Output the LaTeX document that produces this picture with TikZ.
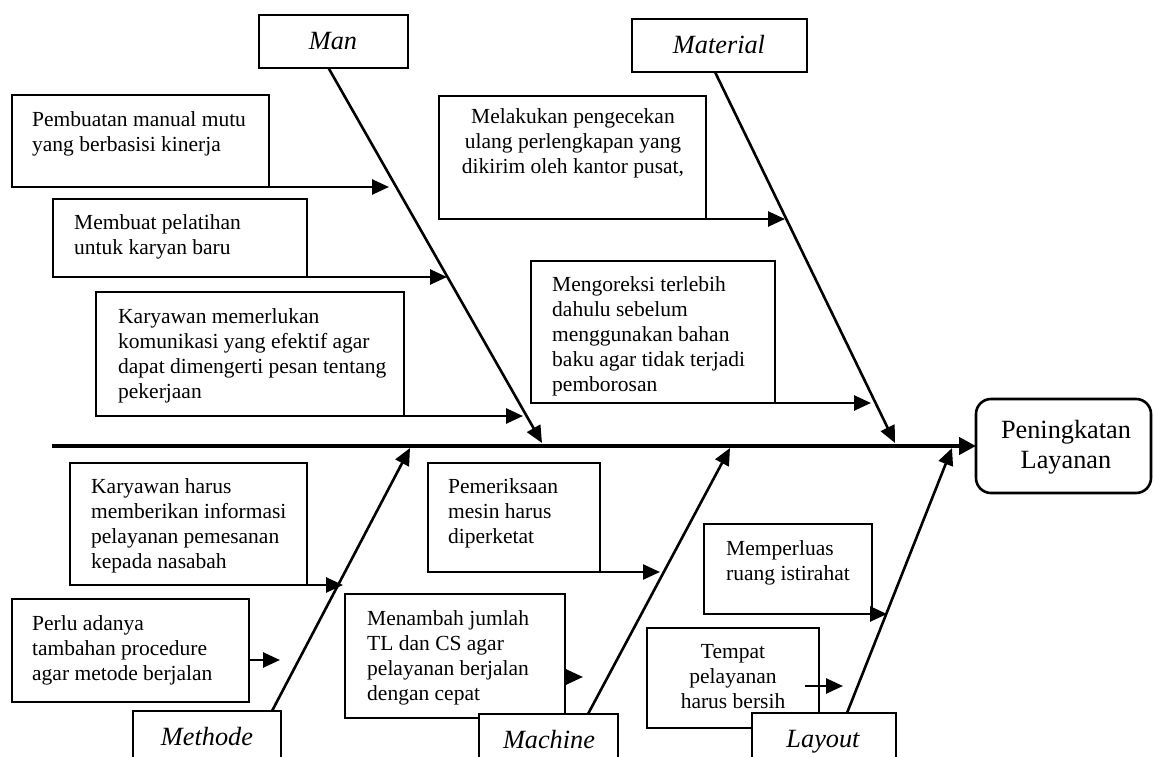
\documentclass[tikz,border=0pt]{standalone}
\usepackage{fontspec}
\setmainfont{Liberation Serif}
\usetikzlibrary{arrows.meta}
\begin{document}
\begin{tikzpicture}[x=1pt,y=-1pt,
  box/.style={draw, line width=2.6pt, fill=white, inner sep=0pt, outer sep=0pt, anchor=north west},
  rbox/.style={box, rounded corners=15pt},
  txt/.style={anchor=base west, inner sep=0pt, font=\fontsize{21.5}{25}\selectfont},
  ctxt/.style={anchor=base, inner sep=0pt, font=\fontsize{21.5}{25}\selectfont},
  lbl/.style={anchor=base, inner sep=0pt, font=\fontsize{26.3}{30}\selectfont\itshape},
  ttl/.style={anchor=base, inner sep=0pt, font=\fontsize{26.3}{30}\selectfont},
  arr/.style={line width=2.6pt, -{Triangle[length=17pt,width=15pt]}},
  spine/.style={line width=4.5pt, -{Triangle[length=17pt,width=17pt]}}
]
\useasboundingbox (0,0) rectangle (1154,757);
\clip (0,0) rectangle (1154,757);

% cause boxes
\node[box, minimum width=257pt, minimum height=92pt] (b1) at (12,95) {};
\node[box, minimum width=254pt, minimum height=78pt] (b2) at (53,199) {};
\node[box, minimum width=308pt, minimum height=124pt] (b3) at (96,292) {};
\node[box, minimum width=267pt, minimum height=123pt] (b4) at (439,96) {};
\node[box, minimum width=244pt, minimum height=142pt] (b5) at (531,261) {};
\node[box, minimum width=237pt, minimum height=122pt] (b6) at (70,463) {};
\node[box, minimum width=237pt, minimum height=103pt] (b7) at (12,599) {};
\node[box, minimum width=172pt, minimum height=109pt] (b8) at (428,463) {};
\node[box, minimum width=220pt, minimum height=124pt] (b9) at (345,594) {};
\node[box, minimum width=168pt, minimum height=90pt] (b10) at (704,524) {};
\node[box, minimum width=172pt, minimum height=100pt] (b11) at (647,628) {};

% cause texts
\node[txt] (t1) at (32,127) {\begin{tabular}[t]{@{}l@{}}Pembuatan manual mutu\\yang berbasisi kinerja\end{tabular}};
\node[txt] (t2) at (74,229) {\begin{tabular}[t]{@{}l@{}}Membuat pelatihan\\untuk karyan baru\end{tabular}};
\node[txt] (t3) at (118,323) {\begin{tabular}[t]{@{}l@{}}Karyawan memerlukan\\komunikasi yang efektif agar\\dapat dimengerti pesan tentang\\pekerjaan\end{tabular}};
\node[ctxt] (t4) at (573,124) {\begin{tabular}[t]{@{}c@{}}Melakukan pengecekan\\ulang perlengkapan yang\\dikirim oleh kantor pusat,\end{tabular}};
\node[txt] (t5) at (552,291) {\begin{tabular}[t]{@{}l@{}}Mengoreksi terlebih\\dahulu sebelum\\menggunakan bahan\\baku agar tidak terjadi\\pemborosan\end{tabular}};
\node[txt] (t6) at (91,493) {\begin{tabular}[t]{@{}l@{}}Karyawan harus\\memberikan informasi\\pelayanan pemesanan\\kepada nasabah\end{tabular}};
\node[txt] (t7) at (32,630) {\begin{tabular}[t]{@{}l@{}}Perlu adanya\\tambahan procedure\\agar metode berjalan\end{tabular}};
\node[txt] (t8) at (448,493) {\begin{tabular}[t]{@{}l@{}}Pemeriksaan\\mesin harus\\diperketat\end{tabular}};
\node[txt] (t9) at (367,625) {\begin{tabular}[t]{@{}l@{}}Menambah jumlah\\TL dan CS agar\\pelayanan berjalan\\dengan cepat\end{tabular}};
\node[txt] (t10) at (726,555) {\begin{tabular}[t]{@{}l@{}}Memperluas\\ruang istirahat\end{tabular}};
\node[ctxt] (t11) at (733,658) {\begin{tabular}[t]{@{}c@{}}Tempat\\pelayanan\\harus bersih\end{tabular}};

% effect box
\node[rbox, minimum width=175pt, minimum height=94pt] (peng) at (976,399) {};
\node[ttl] (tp) at (1066,438) {\begin{tabular}[t]{@{}c@{}}Peningkatan\\Layanan\end{tabular}};

% category boxes (top)
\node[box, minimum width=149pt, minimum height=53pt] (man) at (259,15) {};
\node[lbl] (tman) at (333,50) {Man};
\node[box, minimum width=175pt, minimum height=53pt] (mat) at (632,19) {};
\node[lbl] (tmat) at (719,54) {Material};

% coordinates
\coordinate (s0) at (52,446);
\coordinate (mt) at (542,443);
\coordinate (matt) at (895,443);
\coordinate (met) at (410,448);
\coordinate (mact) at (730,448);
\coordinate (layt) at (952,448);
\coordinate (a1) at (389,187);
\coordinate (a2) at (447,277);
\coordinate (a3) at (523,416);
\coordinate (a4) at (785,219);
\coordinate (a5) at (871,403);
\coordinate (a6) at (343,585);
\coordinate (a7) at (280,660);
\coordinate (a8) at (660,572);
\coordinate (a9) at (583,677);
\coordinate (a10) at (887,614);
\coordinate (s11) at (805,686);
\coordinate (a11) at (843,686);

% spine
\draw[spine] (s0) -- (peng.west);

% bones top
\draw[arr] ([xshift=-5pt]man.south) -- (mt);
\draw[arr] ([xshift=-4.5pt]mat.south) -- (matt);

% cause arrows
\draw[arr] (b1.south east) -- (a1);
\draw[arr] (b2.south east) -- (a2);
\draw[arr] (b3.south east) -- (a3);
\draw[arr] (b4.south east) -- (a4);
\draw[arr] (b5.south east) -- (a5);
\draw[arr] (b6.south east) -- (a6);
\draw[arr] (b7.east |- a7) -- (a7);
\draw[arr] (b8.south east) -- (a8);
\draw[arr] (b9.east |- a9) -- (a9);
\draw[arr] (b10.south east) -- (a10);
\draw[arr] (s11) -- (a11);

% category boxes (bottom)
\node[box, minimum width=148pt, minimum height=79pt] (meth) at (133,711) {};
\node[lbl] (tmeth) at (207,745) {Methode};
\node[box, minimum width=139pt, minimum height=76pt] (mach) at (479,714) {};
\node[lbl] (tmach) at (549,748) {Machine};
\node[box, minimum width=144pt, minimum height=77pt] (lay) at (752,713) {};
\node[lbl] (tlay) at (823,747) {Layout};

% bones bottom
\draw[arr] ([xshift=65pt]meth.north) -- (met);
\draw[arr] ([xshift=39.5pt]mach.north) -- (mact);
\draw[arr] ([xshift=23pt]lay.north) -- (layt);
\end{tikzpicture}
\end{document}
